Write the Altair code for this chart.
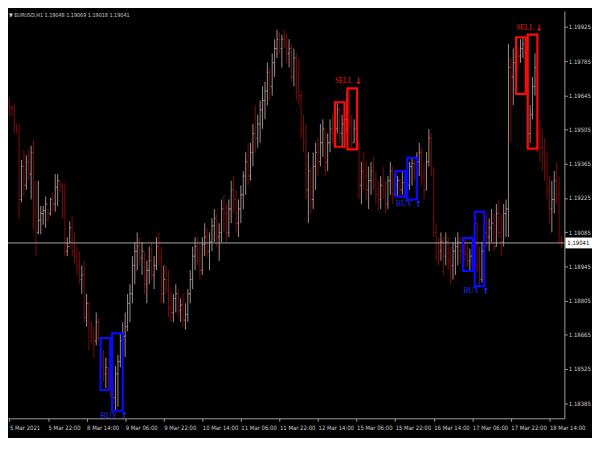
import altair as alt
import pandas as pd

# ---------------- data (EURUSD H1) ----------------
bar_high = [
    1.19636, 1.19605, 1.19609, 1.19528, 1.19528, 1.19381, 1.19424, 1.19400, 1.19424, 1.19439,
    1.19462, 1.19296, 1.19296, 1.19192, 1.19192, 1.19231, 1.19180, 1.19227, 1.19246, 1.19323,
    1.19323, 1.19296, 1.19285, 1.19285, 1.19065, 1.19130, 1.19150, 1.19084, 1.19026, 1.19007,
    1.18949, 1.18968, 1.18833, 1.18800, 1.18717, 1.18698, 1.18756, 1.18736, 1.18652, 1.18601,
    1.18571, 1.18532, 1.18505, 1.18486, 1.18536, 1.18582, 1.18671, 1.18717, 1.18756, 1.18833,
    1.18872, 1.18987, 1.19045, 1.19084, 1.19065, 1.19045, 1.19007, 1.18968, 1.19026, 1.19045,
    1.18987, 1.19065, 1.19084, 1.19026, 1.18949, 1.18949, 1.18929, 1.18852, 1.18833, 1.18872,
    1.18852, 1.18814, 1.18833, 1.18794, 1.18852, 1.18929, 1.19026, 1.19065, 1.19065, 1.19045,
    1.19065, 1.19122, 1.19103, 1.19084, 1.19142, 1.19180, 1.19161, 1.19122, 1.19219, 1.19238,
    1.19200, 1.19219, 1.19296, 1.19315, 1.19258, 1.19219, 1.19277, 1.19335, 1.19412, 1.19451,
    1.19451, 1.19528, 1.19605, 1.19566, 1.19624, 1.19682, 1.19701, 1.19779, 1.19759, 1.19817,
    1.19875, 1.19914, 1.19906, 1.19894, 1.19914, 1.19894, 1.19875, 1.19856, 1.19837, 1.19817,
    1.19798, 1.19663, 1.19566, 1.19528, 1.19412, 1.19354, 1.19412, 1.19451, 1.19470, 1.19528,
    1.19547, 1.19508, 1.19489, 1.19547, 1.19566, 1.19605, 1.19617, 1.19597, 1.19566, 1.19586,
    1.19663, 1.19674, 1.19566, 1.19547, 1.19489, 1.19455, 1.19373, 1.19412, 1.19373, 1.19354,
    1.19373, 1.19393, 1.19335, 1.19296, 1.19315, 1.19354, 1.19296, 1.19315, 1.19373, 1.19354,
    1.19327, 1.19315, 1.19304, 1.19335, 1.19315, 1.19296, 1.19373, 1.19389, 1.19381, 1.19412,
    1.19451, 1.19431, 1.19373, 1.19412, 1.19508, 1.19489, 1.19354, 1.19122, 1.19065, 1.19084,
    1.19065, 1.19084, 1.19065, 1.19026, 1.19045, 1.19065, 1.19084, 1.19065, 1.19065, 1.19061,
    1.19034, 1.19018, 1.19045, 1.19169, 1.19125, 1.19026, 1.19045, 1.19122, 1.19161, 1.19142,
    1.19180, 1.19161, 1.19200, 1.19219, 1.19161, 1.19200, 1.19219, 1.19856, 1.19798, 1.19837,
    1.19856, 1.19844, 1.19875, 1.19883, 1.19860, 1.19682, 1.19605, 1.19721, 1.19817, 1.19765,
    1.19547, 1.19508, 1.19470, 1.19412, 1.19315, 1.19296, 1.19335, 1.19373, 1.19315, 1.19069,
]
bar_low = [
    1.19559, 1.19559, 1.19489, 1.19489, 1.19142, 1.19207, 1.19231, 1.19258, 1.19296, 1.19219,
    1.19092, 1.18987, 1.19076, 1.19076, 1.19115, 1.19103, 1.19130, 1.19153, 1.19169, 1.19169,
    1.19192, 1.19246, 1.19142, 1.18987, 1.18987, 1.19038, 1.18987, 1.18957, 1.18910, 1.18872,
    1.18833, 1.18717, 1.18698, 1.18601, 1.18628, 1.18571, 1.18621, 1.18640, 1.18524, 1.18474,
    1.18447, 1.18439, 1.18408, 1.18378, 1.18354, 1.18370, 1.18532, 1.18601, 1.18574, 1.18679,
    1.18717, 1.18794, 1.18872, 1.18929, 1.18949, 1.18910, 1.18833, 1.18794, 1.18872, 1.18891,
    1.18852, 1.18929, 1.18949, 1.18794, 1.18794, 1.18833, 1.18736, 1.18717, 1.18717, 1.18756,
    1.18736, 1.18717, 1.18698, 1.18686, 1.18717, 1.18794, 1.18852, 1.18929, 1.18949, 1.18891,
    1.18910, 1.18987, 1.18980, 1.18929, 1.19007, 1.19045, 1.19026, 1.18968, 1.19045, 1.19084,
    1.19045, 1.19065, 1.19122, 1.19161, 1.19084, 1.19065, 1.19122, 1.19180, 1.19238, 1.19277,
    1.19296, 1.19354, 1.19412, 1.19431, 1.19451, 1.19508, 1.19547, 1.19605, 1.19624, 1.19644,
    1.19721, 1.19798, 1.19817, 1.19759, 1.19837, 1.19779, 1.19759, 1.19701, 1.19682, 1.19624,
    1.19605, 1.19470, 1.19412, 1.19219, 1.19122, 1.19161, 1.19180, 1.19258, 1.19315, 1.19354,
    1.19393, 1.19315, 1.19335, 1.19412, 1.19451, 1.19470, 1.19489, 1.19451, 1.19435, 1.19489,
    1.19489, 1.19508, 1.19424, 1.19451, 1.19430, 1.19219, 1.19200, 1.19258, 1.19219, 1.19180,
    1.19238, 1.19258, 1.19200, 1.19173, 1.19180, 1.19219, 1.19161, 1.19180, 1.19238, 1.19200,
    1.19238, 1.19231, 1.19231, 1.19238, 1.19219, 1.19219, 1.19258, 1.19277, 1.19296, 1.19277,
    1.19315, 1.19277, 1.19219, 1.19258, 1.19354, 1.19315, 1.19065, 1.18968, 1.18949, 1.18968,
    1.18910, 1.18949, 1.18929, 1.18872, 1.18891, 1.18910, 1.18949, 1.18957, 1.18980, 1.18968,
    1.18941, 1.18926, 1.18949, 1.19007, 1.18922, 1.18864, 1.18879, 1.18987, 1.19026, 1.19007,
    1.19045, 1.19007, 1.19026, 1.19065, 1.18987, 1.19026, 1.19065, 1.19065, 1.19451, 1.19605,
    1.19740, 1.19759, 1.19779, 1.19798, 1.19651, 1.19431, 1.19451, 1.19547, 1.19644, 1.19412,
    1.19373, 1.19335, 1.19296, 1.19219, 1.19122, 1.19084, 1.19161, 1.19200, 1.19040, 1.19018,
]
bar_close = [
    1.19597, 1.19593, 1.19536, 1.19505, 1.19219, 1.19354, 1.19277, 1.19373, 1.19323, 1.19412,
    1.19161, 1.19084, 1.19134, 1.19161, 1.19173, 1.19200, 1.19161, 1.19219, 1.19200, 1.19269,
    1.19296, 1.19277, 1.19161, 1.19007, 1.19026, 1.19103, 1.19007, 1.18987, 1.18949, 1.18891,
    1.18910, 1.18736, 1.18794, 1.18679, 1.18659, 1.18640, 1.18717, 1.18650, 1.18555, 1.18505,
    1.18532, 1.18466, 1.18447, 1.18408, 1.18505, 1.18555, 1.18640, 1.18659, 1.18698, 1.18794,
    1.18833, 1.18949, 1.19007, 1.19026, 1.18980, 1.19007, 1.18872, 1.18929, 1.18968, 1.18910,
    1.18949, 1.19026, 1.18980, 1.18833, 1.18891, 1.18852, 1.18775, 1.18756, 1.18814, 1.18833,
    1.18764, 1.18787, 1.18725, 1.18748, 1.18833, 1.18891, 1.18987, 1.19026, 1.18968, 1.18929,
    1.19034, 1.19065, 1.19007, 1.19045, 1.19111, 1.19142, 1.19065, 1.19084, 1.19180, 1.19161,
    1.19084, 1.19180, 1.19258, 1.19219, 1.19122, 1.19180, 1.19238, 1.19315, 1.19373, 1.19315,
    1.19412, 1.19489, 1.19470, 1.19528, 1.19586, 1.19624, 1.19663, 1.19740, 1.19682, 1.19779,
    1.19837, 1.19875, 1.19837, 1.19875, 1.19856, 1.19817, 1.19837, 1.19721, 1.19798, 1.19759,
    1.19644, 1.19508, 1.19451, 1.19258, 1.19335, 1.19219, 1.19354, 1.19412, 1.19373, 1.19451,
    1.19508, 1.19373, 1.19451, 1.19508, 1.19489, 1.19508, 1.19586, 1.19489, 1.19528, 1.19547,
    1.19624, 1.19536, 1.19451, 1.19508, 1.19450, 1.19277, 1.19335, 1.19315, 1.19258, 1.19296,
    1.19335, 1.19277, 1.19238, 1.19219, 1.19277, 1.19258, 1.19200, 1.19296, 1.19335, 1.19238,
    1.19277, 1.19296, 1.19258, 1.19288, 1.19258, 1.19277, 1.19354, 1.19366, 1.19335, 1.19373,
    1.19412, 1.19315, 1.19258, 1.19373, 1.19470, 1.19335, 1.19084, 1.19026, 1.19007, 1.19045,
    1.18987, 1.19045, 1.18968, 1.18949, 1.19007, 1.19026, 1.19045, 1.19007, 1.19026, 1.18995,
    1.18968, 1.18987, 1.19026, 1.19122, 1.18949, 1.18891, 1.19007, 1.19084, 1.19065, 1.19103,
    1.19122, 1.19026, 1.19161, 1.19084, 1.19045, 1.19161, 1.19180, 1.19759, 1.19721, 1.19779,
    1.19817, 1.19806, 1.19837, 1.19856, 1.19682, 1.19489, 1.19566, 1.19682, 1.19759, 1.19489,
    1.19431, 1.19412, 1.19354, 1.19258, 1.19180, 1.19219, 1.19296, 1.19238, 1.19048, 1.19041,
]
first_open = 1.19610

time_labels = ["5 Mar 2021", "5 Mar 22:00", "8 Mar 14:00", "9 Mar 06:00", "9 Mar 22:00",
               "10 Mar 14:00", "11 Mar 06:00", "11 Mar 22:00", "12 Mar 14:00", "15 Mar 06:00",
               "15 Mar 22:00", "16 Mar 14:00", "17 Mar 06:00", "17 Mar 22:00", "18 Mar 14:00"]
label_step = 16
price_ticks = [1.18385, 1.18525, 1.18665, 1.18805, 1.18945, 1.19085,
               1.19225, 1.19365, 1.19505, 1.19645, 1.19785, 1.19925]

box_side = ["BUY", "BUY", "SELL", "SELL", "BUY", "BUY", "BUY", "BUY", "SELL", "SELL"]
box_start = [37.8, 42.6, 135.0, 140.2, 160.2, 165.0, 188.2, 193.0, 210.2, 215.0]
box_end = [41.8, 47.0, 139.0, 144.2, 164.2, 169.0, 192.2, 197.0, 214.2, 219.0]
box_top = [1.18652, 1.18671, 1.19617, 1.19674, 1.19335, 1.19389, 1.19061, 1.19169, 1.19883, 1.19894]
box_bottom = [1.18439, 1.18354, 1.19435, 1.19424, 1.19231, 1.19219, 1.18926, 1.18864, 1.19651, 1.19427]

signal_side = ["BUY", "SELL", "BUY", "BUY", "SELL"]
signal_start = [37.8, 135.0, 160.2, 188.2, 210.2]
signal_end = [47.0, 144.2, 169.0, 197.0, 219.0]
signal_price = [1.18354, 1.19674, 1.19219, 1.18864, 1.19894]

current_price = 1.19041
header_text = "▼ EURUSD,H1  1.19048 1.19069 1.19018 1.19041"

# ---------------- layout / style ----------------
W, H = 564, 413
PAD_R, PAD_B = 28, 17
FONT = "DejaVu Sans Condensed, Liberation Sans Narrow, sans-serif"
AXIS_COL = "#a0a0a0"
TXT_COL = "#cfcfcf"
BULL, BEAR = "#a08c8c", "#7c0c0c"

opens = [first_open] + bar_close[:-1]
bars = pd.DataFrame({
    "i": list(range(len(bar_close))),
    "open": opens, "high": bar_high, "low": bar_low, "close": bar_close,
})
bars["dir"] = ["up" if c >= o else "down" for o, c in zip(opens, bar_close)]

xs = alt.Scale(domain=[-0.6, 230.2], nice=False, zero=False)
ys = alt.Scale(domain=[1.18323, 1.19991], nice=False, zero=False)

labels_js = "[" + ",".join("'%s'" % t for t in time_labels) + "]"
x_axis = alt.Axis(values=[k * label_step for k in range(len(time_labels))],
                  labelExpr=labels_js + "[round(datum.value / %d)]" % label_step,
                  labelAlign="left", labelBaseline="top", labelColor=TXT_COL, labelFont=FONT,
                  labelFontSize=6, labelPadding=3, labelOverlap=False, labelFlush=False,
                  tickColor=AXIS_COL, tickSize=3, domainColor=AXIS_COL, grid=False, title=None)
y_axis = alt.Axis(orient="right", values=price_ticks, format=".5f",
                  labelColor=TXT_COL, labelFont=FONT, labelFontSize=6, labelPadding=1,
                  tickColor=AXIS_COL, tickSize=3, domainColor=AXIS_COL, grid=False, title=None)


def X(field):
    return alt.X(field, type="quantitative", scale=xs, axis=x_axis)


def Y(field):
    return alt.Y(field, type="quantitative", scale=ys, axis=y_axis)


col = alt.Color("dir:N", scale=alt.Scale(domain=["up", "down"], range=[BULL, BEAR]), legend=None)

base = alt.Chart(bars)
hl = base.mark_rule(strokeWidth=1).encode(x=X("i"), y=Y("low"), y2="high:Q", color=col)
otick = base.transform_calculate(x0="datum.i - 0.5").mark_rule(strokeWidth=1).encode(
    x=X("x0"), x2="i:Q", y=Y("open"), color=col)
ctick = base.transform_calculate(x1="datum.i + 0.5").mark_rule(strokeWidth=1).encode(
    x=X("i"), x2="x1:Q", y=Y("close"), color=col)

boxes = pd.DataFrame({"side": box_side, "x0": box_start, "x1": box_end,
                      "top": box_top, "bottom": box_bottom})
side_stroke = alt.Stroke("side:N", scale=alt.Scale(domain=["BUY", "SELL"], range=["#0a0aff", "#ff0a0a"]), legend=None)
rects = alt.Chart(boxes).mark_rect(fillOpacity=0, strokeWidth=2.2).encode(
    x=X("x0"), x2="x1:Q", y=Y("top"), y2="bottom:Q", stroke=side_stroke)

sig = pd.DataFrame({"side": signal_side, "x0": signal_start, "x1": signal_end, "p": signal_price})
sig["arrow"] = ["↑" if s == "BUY" else "↓" for s in signal_side]
side_color = alt.Color("side:N", scale=alt.Scale(domain=["BUY", "SELL"], range=["#2a2aff", "#e81010"]), legend=None)
buy_txt = alt.Chart(sig).transform_filter("datum.side == 'BUY'").mark_text(
    align="left", baseline="top", dy=1, font="Liberation Serif", fontSize=8).encode(
    x=X("x0"), y=Y("p"), text="side:N", color=side_color)
sell_txt = alt.Chart(sig).transform_filter("datum.side == 'SELL'").mark_text(
    align="left", baseline="bottom", dy=-3, font="Liberation Serif", fontSize=7.5).encode(
    x=X("x0"), y=Y("p"), text="side:N", color=side_color)
buy_arr = alt.Chart(sig).transform_filter("datum.side == 'BUY'").mark_text(
    align="center", baseline="top", dx=1.5, dy=0.5, fontSize=8.5, fontWeight="bold", font="DejaVu Sans").encode(
    x=X("x1"), y=Y("p"), text="arrow:N", color=side_color)
sell_arr = alt.Chart(sig).transform_filter("datum.side == 'SELL'").mark_text(
    align="center", baseline="bottom", dx=1.5, dy=-2, fontSize=9, fontWeight="bold", font="DejaVu Sans").encode(
    x=X("x1"), y=Y("p"), text="arrow:N", color=side_color)

cur = pd.DataFrame({"p": [current_price], "t": ["%.5f" % current_price]})
cur_line = alt.Chart(cur).mark_rule(color="#a8a8a8", strokeWidth=1).encode(y=Y("p"))
cur_box = alt.Chart(cur).mark_rect(color="white", yOffset=-5.5, y2Offset=5.5).encode(
    y=Y("p"), y2="p:Q", x=alt.value(W + 1), x2=alt.value(W + PAD_R))
cur_txt = alt.Chart(cur).mark_text(align="left", baseline="middle", font=FONT, fontSize=6, color="black").encode(
    y=Y("p"), x=alt.value(W + 3), text="t:N")

hdr = pd.DataFrame({"t": [header_text]})
header = alt.Chart(hdr).mark_text(align="left", baseline="middle", font=FONT, fontSize=5.5, color=TXT_COL).encode(
    x=alt.value(1), y=alt.value(4), text="t:N")

chart = alt.layer(
    hl, otick, ctick, cur_line, rects, buy_txt, sell_txt, buy_arr, sell_arr, cur_box, cur_txt, header
).resolve_scale(color="independent", stroke="independent").properties(
    width=W, height=H,
    autosize=alt.AutoSizeParams(type="none"),
    padding={"left": 0, "top": 0, "right": PAD_R, "bottom": PAD_B},
    background="black",
).configure_view(strokeWidth=0)

chart.save("out.html", embed_options={"renderer": "svg", "actions": False})
